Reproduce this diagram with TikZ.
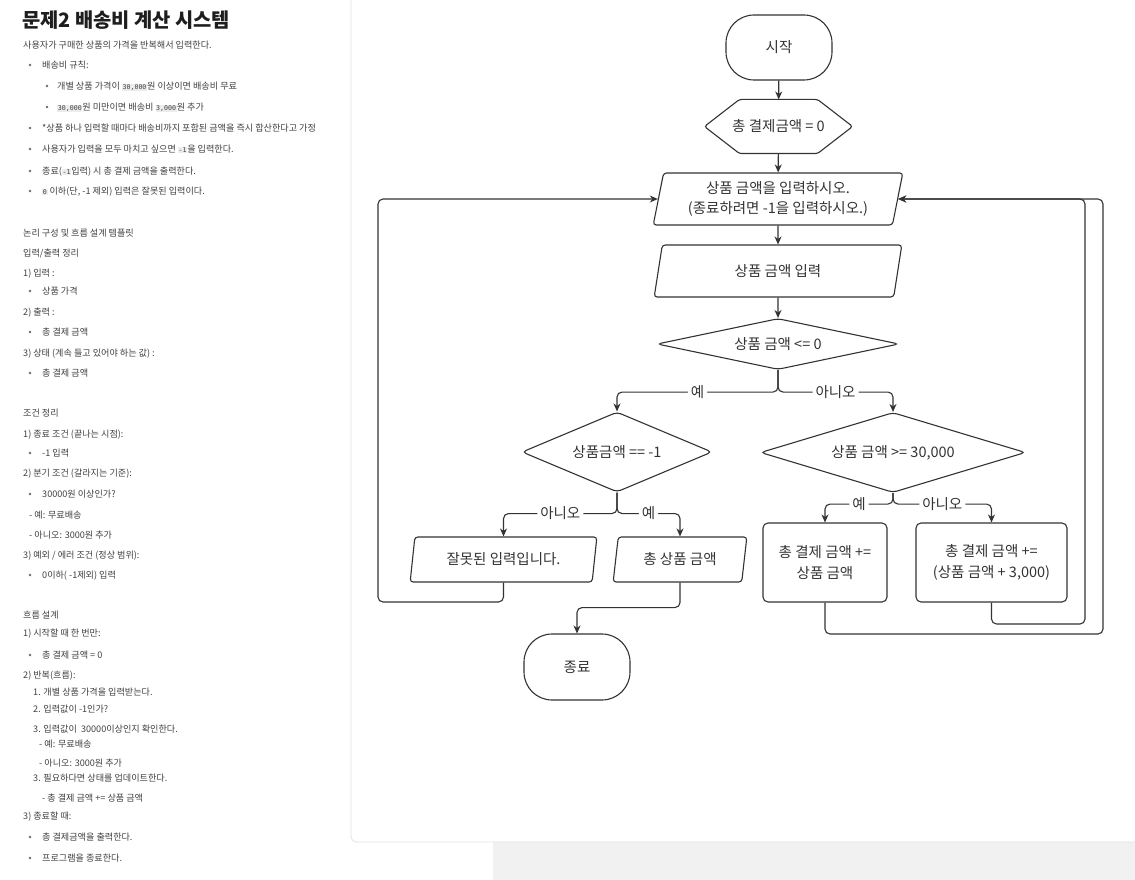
\documentclass[tikz,border=0pt]{standalone}
\usepackage{fontspec}
\setmainfont{Noto Sans CJK KR}
\newfontfamily\monof{DejaVu Sans Mono}
\usetikzlibrary{shapes.geometric,arrows.meta,calc}
\definecolor{ink}{HTML}{333333}
\definecolor{txt}{HTML}{404040}
\definecolor{titlec}{HTML}{1E1E1E}
\definecolor{codebg}{HTML}{ECECEC}
\definecolor{panelborder}{HTML}{E2E2E2}
\definecolor{strip}{HTML}{F1F1F1}
\definecolor{bul}{HTML}{6A6A6A}
\newcommand\cd[1]{{\setlength\fboxsep{0.7pt}\colorbox{codebg}{\monof\fontsize{6.6}{7}\selectfont #1}}}
\begin{document}
\begin{tikzpicture}[x=1pt,y=-1pt,
  fc/.style={font=\fontsize{14.5}{20.5}\selectfont, text=ink, draw=ink, line width=1.1pt, align=center},
  term/.style={fc, rectangle, rounded corners=28pt, minimum width=106pt, minimum height=65pt, inner sep=0pt},
  para/.style={fc, trapezium, trapezium left angle=77, trapezium right angle=103, trapezium stretches=true, rounded corners=3pt, inner sep=0pt},
  dia/.style={fc, diamond, inner sep=0pt, rounded corners=4pt},
  proc/.style={fc, rectangle, rounded corners=5pt, minimum height=79pt, inner sep=0pt},
  arr/.style={draw=ink, line width=1.1pt, rounded corners=5pt, -{Stealth[length=8pt,width=7pt,inset=2.5pt]}},
  lab/.style={fill=white, text=ink, font=\fontsize{14.5}{17}\selectfont, inner sep=3pt},
  body/.style={anchor=base west, font=\fontsize{9.1}{10}\selectfont, text=txt, inner sep=0pt},
]
\useasboundingbox (0,0) rectangle (1135,880);
\fill[white] (0,0) rectangle (1135,880);
% background strip and panel
\fill[strip] (493,842) rectangle (1135,880);
\draw[fill=white, draw=panelborder, line width=0.8pt, rounded corners=6pt] (351,-10) rectangle (1150,842);

% ---------- left panel text ----------
\node[anchor=base west, inner sep=0pt, text=titlec, font=\fontsize{19.8}{22}\selectfont\bfseries] (title) at (22,27.5) {문제2 배송비 계산 시스템};
\node[body] (t1) at (23,48.5) {사용자가 구매한 상품의 가격을 반복해서 입력한다.};
\node[body] (t2) at (42,68.5) {배송비 규칙:};
\node[body] (t3) at (57,89.5) {개별 상품 가격이 \cd{30,000}원 이상이면 배송비 무료};
\node[body] (t4) at (57,110.5) {\cd{30,000}원 미만이면 배송비 \cd{3,000}원 추가};
\node[body] (t5) at (42,131.5) {*상품 하나 입력할 때마다 배송비까지 포함된 금액을 즉시 합산한다고 가정};
\node[body] (t6) at (42,152.5) {사용자가 입력을 모두 마치고 싶으면 \cd{-1}을 입력한다.};
\node[body] (t7) at (42,174.5) {종료(\cd{-1}입력) 시 총 결제 금액을 출력한다.};
\node[body] (t8) at (42,194.5) {\cd{0} 이하(단, -1 제외) 입력은 잘못된 입력이다.};
\foreach \yy in {65,128,149,171,191} \fill[bul] (30,\yy) circle[radius=1.3pt];
\foreach \yy in {86,107} \fill[bul] (47,\yy) circle[radius=1.3pt];

\node[body] (t9) at (23,236.5) {논리 구성 및 흐름 설계 템플릿};
\node[body] (t10) at (23,256.5) {입력/출력 정리};
\node[body] (t11) at (23,276.5) {1) 입력 :};
\node[body] (t12) at (42,294.5) {상품 가격};
\node[body] (t13) at (23,315.5) {2) 출력 :};
\node[body] (t14) at (42,335.5) {총 결제 금액};
\node[body] (t15) at (23,356.5) {3) 상태 (계속 들고 있어야 하는 값) :};
\node[body] (t16) at (42,376.5) {총 결제 금액};
\node[body] (t17) at (23,416.5) {조건 정리};
\node[body] (t18) at (23,437.5) {1) 종료 조건 (끝나는 시점):};
\node[body] (t19) at (42,456.5) {-1 입력};
\node[body] (t20) at (23,476.5) {2) 분기 조건 (갈라지는 기준):};
\node[body] (t21) at (42,497.5) {30000원 이상인가?};
\node[body] (t22) at (29,518.5) {- 예: 무료배송};
\node[body] (t23) at (29,538.5) {- 아니오: 3000원 추가};
\node[body] (t24) at (23,558.5) {3) 예외 / 에러 조건 (정상 범위):};
\node[body] (t25) at (42,578.5) {0이하( -1제외) 입력};
\node[body] (t26) at (23,618.5) {흐름 설계};
\node[body] (t27) at (23,636.5) {1) 시작할 때 한 번만:};
\node[body] (t28) at (42,658.5) {총 결제 금액 = 0};
\node[body] (t29) at (23,678.5) {2) 반복(흐름):};
\node[body] (t30) at (33,695.5) {1. 개별 상품 가격을 입력받는다.};
\node[body] (t31) at (33,712.5) {2. 입력값이 -1인가?};
\node[body] (t32) at (33,732.5) {3. 입력값이 \ 30000이상인지 확인한다.};
\node[body] (t33) at (39,747.5) {- 예: 무료배송};
\node[body] (t34) at (39,766.5) {- 아니오: 3000원 추가};
\node[body] (t35) at (33,781.5) {3. 필요하다면 상태를 업데이트한다.};
\node[body] (t36) at (42,801.5) {- 총 결제 금액 += 상품 금액};
\node[body] (t37) at (23,819.5) {3) 종료할 때:};
\node[body] (t38) at (42,840.5) {총 결제금액을 출력한다.};
\node[body] (t39) at (42,861.5) {프로그램을 종료한다.};
\foreach \yy in {291,332,373,453,494,575,655,837,858} \fill[bul] (30,\yy) circle[radius=1.3pt];

% ---------- flowchart ----------
\node[term] (start) at (779,47.5) {시작};
\node[fc, draw=none, minimum width=147pt, minimum height=53pt, inner sep=0pt] (init) at (778.5,126.5) {총 결제금액 = 0};
\draw[ink, line width=1.1pt, rounded corners=2.5pt] ([xshift=35pt]init.north west) -- ([xshift=-35pt]init.north east) -- (init.east) -- ([xshift=-35pt]init.south east) -- ([xshift=35pt]init.south west) -- (init.west) -- cycle;
\node[para, minimum width=250pt, minimum height=52pt] (in1) at (778,199) {상품 금액을 입력하시오.\\(종료하려면 -1을 입력하시오.)};
\node[para, minimum width=250pt, minimum height=52pt] (in2) at (778,271) {상품 금액 입력};
\node[dia, aspect=4.75, minimum width=242pt, minimum height=51pt] (d1) at (778,344) {상품 금액 <= 0};
\node[dia, aspect=2.375, minimum width=190pt, minimum height=80pt] (d2) at (617,452) {상품금액 == -1};
\node[dia, aspect=3.3, minimum width=265pt, minimum height=80pt] (d3) at (893,452.5) {상품 금액 >= 30,000};
\node[proc, minimum width=124pt] (r1) at (825,562.5) {총 결제 금액 +=\\상품 금액};
\node[proc, minimum width=151pt] (r2) at (991.5,562.5) {총 결제 금액 +=\\(상품 금액 + 3,000)};
\node[para, minimum width=187pt, minimum height=45pt] (wrong) at (503.5,559.5) {잘못된 입력입니다.};
\node[para, minimum width=134pt, minimum height=45pt] (total) at (680,559.5) {총 상품 금액};
\node[term, minimum height=66pt] (end) at (577,667) {종료};

% connectors
\draw[arr] (start) -- (init);
\draw[arr] (init) -- (in1);
\draw[arr] (in1) -- (in2);
\draw[arr] (in2) -- (d1);
\draw[arr] (d1.south) -- ++(0,22) -| node[lab, pos=0.25] (l1) {예} (d2.north);
\draw[arr] (d1.south) -- ++(0,22) -| node[lab, pos=0.25] (l2) {아니오} (d3.north);
\draw[arr] (d2.south) -- ++(0,21) -| node[lab, pos=0.25] (l3) {아니오} (wrong.north);
\draw[arr] (d2.south) -- ++(0,21) -| node[lab, pos=0.25] (l4) {예} (total.north);
\draw[arr] (d3.south) -- ++(0,11) -| node[lab, pos=0.25] (l5) {예} (r1.north);
\draw[arr] (d3.south) -- ++(0,11) -| node[lab, pos=0.25] (l6) {아니오} (r2.north);
\coordinate (c1) at (1085,624);
\coordinate (c2) at (1103,634);
\coordinate (c3) at (378,602);
\draw[arr] (r2.south) |- (c1) |- (in1.east);
\draw[arr] (r1.south) |- (c2) |- (in1.east);
\draw[arr] (wrong.south) |- (c3) |- (in1.west);
\draw[arr] (total.south) -- ++(0,25) -| (end.north);
\end{tikzpicture}
\end{document}
